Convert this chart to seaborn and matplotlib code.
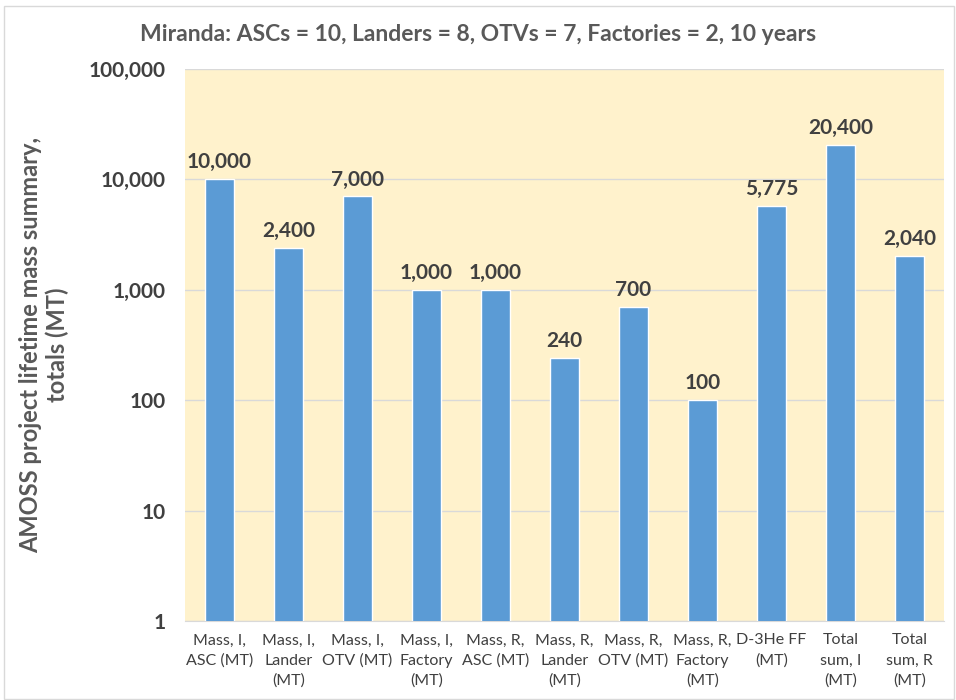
import matplotlib
matplotlib.use("Agg")
import matplotlib.pyplot as plt
import matplotlib.ticker as mticker
from matplotlib.patches import Rectangle
import pandas as pd
import seaborn as sns

categories = [
    "Mass, I,\nASC (MT)", "Mass, I,\nLander\n(MT)", "Mass, I,\nOTV (MT)",
    "Mass, I,\nFactory\n(MT)", "Mass, R,\nASC (MT)", "Mass, R,\nLander\n(MT)",
    "Mass, R,\nOTV (MT)", "Mass, R,\nFactory\n(MT)", "D-3He FF\n(MT)",
    "Total\nsum, I\n(MT)", "Total\nsum, R\n(MT)",
]
values = [10000, 2400, 7000, 1000, 1000, 240, 700, 100, 5775, 20400, 2040]
y_ticks = [1, 10, 100, 1000, 10000, 100000]

title = "Miranda: ASCs = 10, Landers = 8, OTVs = 7, Factories = 2, 10 years"
y_label = "AMOSS project lifetime mass summary,\ntotals (MT)"

sns.set_style("white")
plt.rcParams["font.family"] = ["Lato", "DejaVu Sans"]

df = pd.DataFrame({"cat": categories, "val": values})

fig = plt.figure(figsize=(9.56, 7), dpi=100)
ax = fig.add_axes([0.1935, 0.1129, 0.794, 0.7886])
ax.set_facecolor("#FFF2CC")

sns.barplot(data=df, x="cat", y="val", color="#5B9BD5", saturation=1,
            width=0.41, ax=ax, zorder=3)
ax.set_yscale("log")
ax.set_ylim(1, 100000)
ax.set_xlim(-0.5, len(categories) - 0.5)
ax.set_yticks(y_ticks)
ax.yaxis.set_major_formatter(mticker.FuncFormatter(lambda v, p: f"{v:,.0f}"))
ax.yaxis.set_minor_locator(mticker.NullLocator())
ax.grid(axis="y", color="#D9D9D9", linewidth=1, zorder=0)

for s in ax.spines.values():
    s.set_visible(False)
ax.spines["bottom"].set_visible(True)
ax.spines["bottom"].set_color("#D9D9D9")

ax.tick_params(axis="y", length=0, pad=14, labelsize=15, labelcolor="#404040")
for t in ax.get_yticklabels():
    t.set_fontweight("bold")
ax.tick_params(axis="x", length=0, pad=9, labelsize=11.5, labelcolor="#404040")
for t in ax.get_xticklabels():
    t.set_linespacing(1.55)
ax.set_xlabel("")
ax.set_ylabel(y_label, fontsize=17, fontweight="bold", color="#595959", labelpad=14)

for i, v in enumerate(values):
    ax.annotate(f"{v:,}", (i, v), xytext=(0, 5), textcoords="offset points",
                ha="center", va="bottom", fontsize=15, fontweight="bold",
                color="#404040")

fig.text(0.5, 0.951, title, ha="center", va="center", fontsize=16.5,
         fontweight="bold", color="#595959")

fig.patches.append(Rectangle((0.004, 0.002), 0.994, 0.99, transform=fig.transFigure,
                             fill=False, edgecolor="#D9D9D9", linewidth=1))

fig.savefig("out.png", dpi=100)
